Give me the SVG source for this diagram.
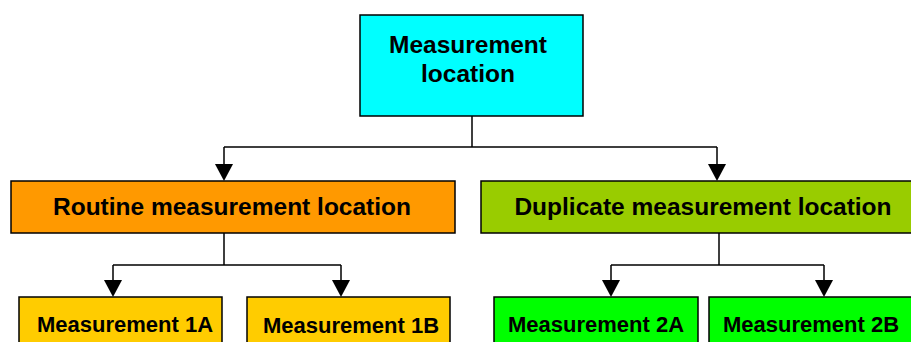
<svg xmlns="http://www.w3.org/2000/svg" width="911" height="342" viewBox="0 0 911 342">
<style>
.box{stroke:#000;stroke-width:1.5}
.t{font-family:"Liberation Sans",Arial,sans-serif;font-weight:bold;font-size:22px;fill:#000;text-anchor:middle}
.big{font-size:24.5px}
.c{fill:none;stroke:#000;stroke-width:1.5}
.ah{fill:#000}
</style>
<rect width="911" height="342" fill="#fff"/>
<g id="connectors">
<path class="c" d="M472,116 V147 M224,147 H717 M224,147 V164 M717,147 V164"/>
<path class="ah" d="M215,164 L233,164 L224,181 Z"/>
<path class="ah" d="M708,164 L726,164 L717,181 Z"/>
<path class="c" d="M224,233 V265 M113,265 H341 M113,265 V280 M341,265 V280"/>
<path class="ah" d="M104,280 L122,280 L113,297 Z"/>
<path class="ah" d="M332,280 L350,280 L341,297 Z"/>
<path class="c" d="M719,233 V265 M611,265 H824 M611,265 V280 M824,265 V280"/>
<path class="ah" d="M602,280 L620,280 L611,297 Z"/>
<path class="ah" d="M815,280 L833,280 L824,297 Z"/>
</g>
<g id="root">
<rect class="box" x="360" y="15" width="223" height="101" fill="#00FFFF"/>
<text class="t big" x="468" y="53">Measurement</text>
<text class="t big" x="468" y="82">location</text>
</g>
<g id="routine">
<rect class="box" x="11" y="181" width="444" height="52" fill="#FF9900"/>
<text class="t big" x="232" y="215">Routine measurement location</text>
</g>
<g id="duplicate">
<rect class="box" x="481" y="181" width="444" height="52" fill="#99CC00"/>
<text class="t big" x="703" y="215">Duplicate measurement location</text>
</g>
<g id="m1a">
<rect class="box" x="19" y="297" width="203" height="60" fill="#FFCC00"/>
<text class="t" x="125" y="332">Measurement 1A</text>
</g>
<g id="m1b">
<rect class="box" x="247" y="297" width="203" height="60" fill="#FFCC00"/>
<text class="t" x="351" y="333">Measurement 1B</text>
</g>
<g id="m2a">
<rect class="box" x="494" y="297" width="204" height="60" fill="#00FF00"/>
<text class="t" x="596" y="332">Measurement 2A</text>
</g>
<g id="m2b">
<rect class="box" x="709" y="297" width="204" height="60" fill="#00FF00"/>
<text class="t" x="811" y="332">Measurement 2B</text>
</g>
</svg>
